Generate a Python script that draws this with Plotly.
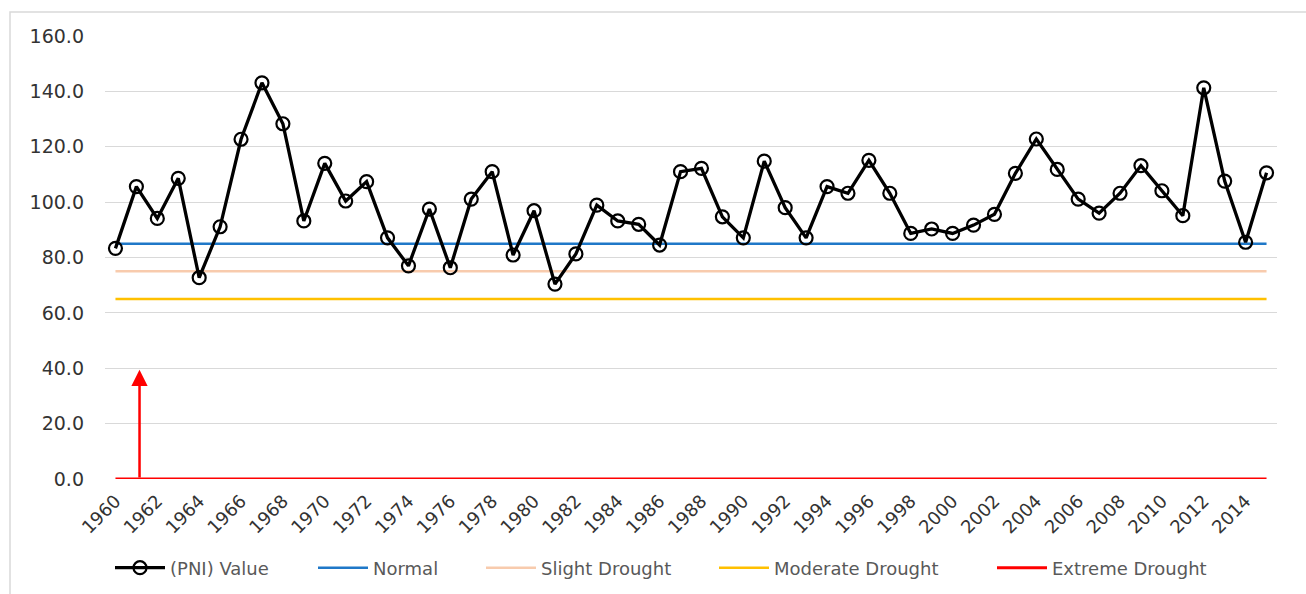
import plotly.graph_objects as go

years = list(range(1960, 2016))
pni_values = [83.3, 105.6, 94.1, 108.6, 72.7, 91.1, 122.7, 143.1, 128.3, 93.2,
              114.0, 100.4, 107.4, 87.1, 77.0, 97.5, 76.3, 101.1, 111.0, 80.9,
              96.9, 70.4, 81.3, 98.9, 93.2, 92.0, 84.5, 111.0, 112.2, 94.7,
              87.1, 114.8, 98.0, 87.1, 105.6, 103.2, 115.1, 103.2, 88.7, 90.3,
              88.7, 91.7, 95.6, 110.4, 122.8, 111.8, 101.1, 96.0, 103.2, 113.2,
              104.1, 95.1, 141.3, 107.6, 85.5, 110.6]
normal = [85] * len(years)
slight = [75] * len(years)
moderate = [65] * len(years)
extreme = [0] * len(years)

arrow_year = 1961.15
arrow_top = 39.5

FONT = "DejaVu Sans"
PLOT_L, PLOT_W = 105, 1172
PLOT_B, PLOT_H = 479, 443

def px_x(p):
    return (p - PLOT_L) / PLOT_W

def px_y(p):
    return (PLOT_B - p) / PLOT_H

fig = go.Figure()
fig.add_trace(go.Scatter(x=years, y=normal, name="Normal", mode="lines", legend="legend2",
                         line=dict(color="#1f78c8", width=2.5)))
fig.add_trace(go.Scatter(x=years, y=slight, name="Slight Drought", mode="lines", legend="legend3",
                         line=dict(color="#f8cbad", width=2.5)))
fig.add_trace(go.Scatter(x=years, y=moderate, name="Moderate Drought", mode="lines", legend="legend4",
                         line=dict(color="#ffc000", width=2.5)))
fig.add_trace(go.Scatter(x=years, y=extreme, name="Extreme Drought", mode="lines", legend="legend5",
                         line=dict(color="#ff0000", width=3)))
fig.add_trace(go.Scatter(x=years, y=pni_values, name="(PNI) Value", mode="lines+markers",
                         legend="legend",
                         line=dict(color="black", width=3.3),
                         marker=dict(symbol="circle-open", size=13, color="black",
                                     line=dict(width=2.2, color="black"))))

fig.add_annotation(x=arrow_year, y=arrow_top, ax=arrow_year, ay=0, xref="x", yref="y",
                   axref="x", ayref="y", showarrow=True, arrowhead=2, arrowsize=1.3,
                   arrowwidth=2.5, arrowcolor="#ff0000", text="")

fig.add_shape(type="rect", xref="paper", yref="paper",
              x0=px_x(10), x1=px_x(1320), y0=px_y(620), y1=px_y(12),
              line=dict(color="#d9d9d9", width=1.5), fillcolor="rgba(0,0,0,0)", layer="below")

leg_common = dict(orientation="h", xanchor="left", y=px_y(568), yanchor="middle",
                  font=dict(family=FONT, size=18, color="#595959"), itemwidth=50,
                  bgcolor="rgba(0,0,0,0)")
line_starts = [115, 318, 486, 719, 997]
legends = {}
for i, ls in enumerate(line_starts):
    key = "legend" if i == 0 else f"legend{i + 1}"
    legends[key] = dict(leg_common, x=px_x(ls - 5))

fig.update_layout(
    width=1306, height=594,
    margin=dict(l=PLOT_L, r=1306 - PLOT_L - PLOT_W, t=PLOT_B - PLOT_H, b=594 - PLOT_B,
                autoexpand=False),
    paper_bgcolor="white", plot_bgcolor="white",
    font=dict(family=FONT, size=17, color="#333333"),
    showlegend=True,
    xaxis=dict(range=[1959.5, 2015.5], tickmode="linear", tick0=1960, dtick=2,
               tickangle=-45, showgrid=False, zeroline=False, showline=False,
               ticklabelstandoff=7,
               tickfont=dict(family=FONT, size=18, color="#333333")),
    yaxis=dict(range=[0, 160], tickmode="linear", tick0=0, dtick=20, tickformat=".1f",
               showgrid=True, gridcolor="#d9d9d9", gridwidth=1, zeroline=False,
               tickfont=dict(family=FONT, size=19, color="#333333"), ticklabelstandoff=20),
    **legends,
)

fig.write_html("out.html", config={"displayModeBar": False},
               post_script="document.body.style.margin='0';")
